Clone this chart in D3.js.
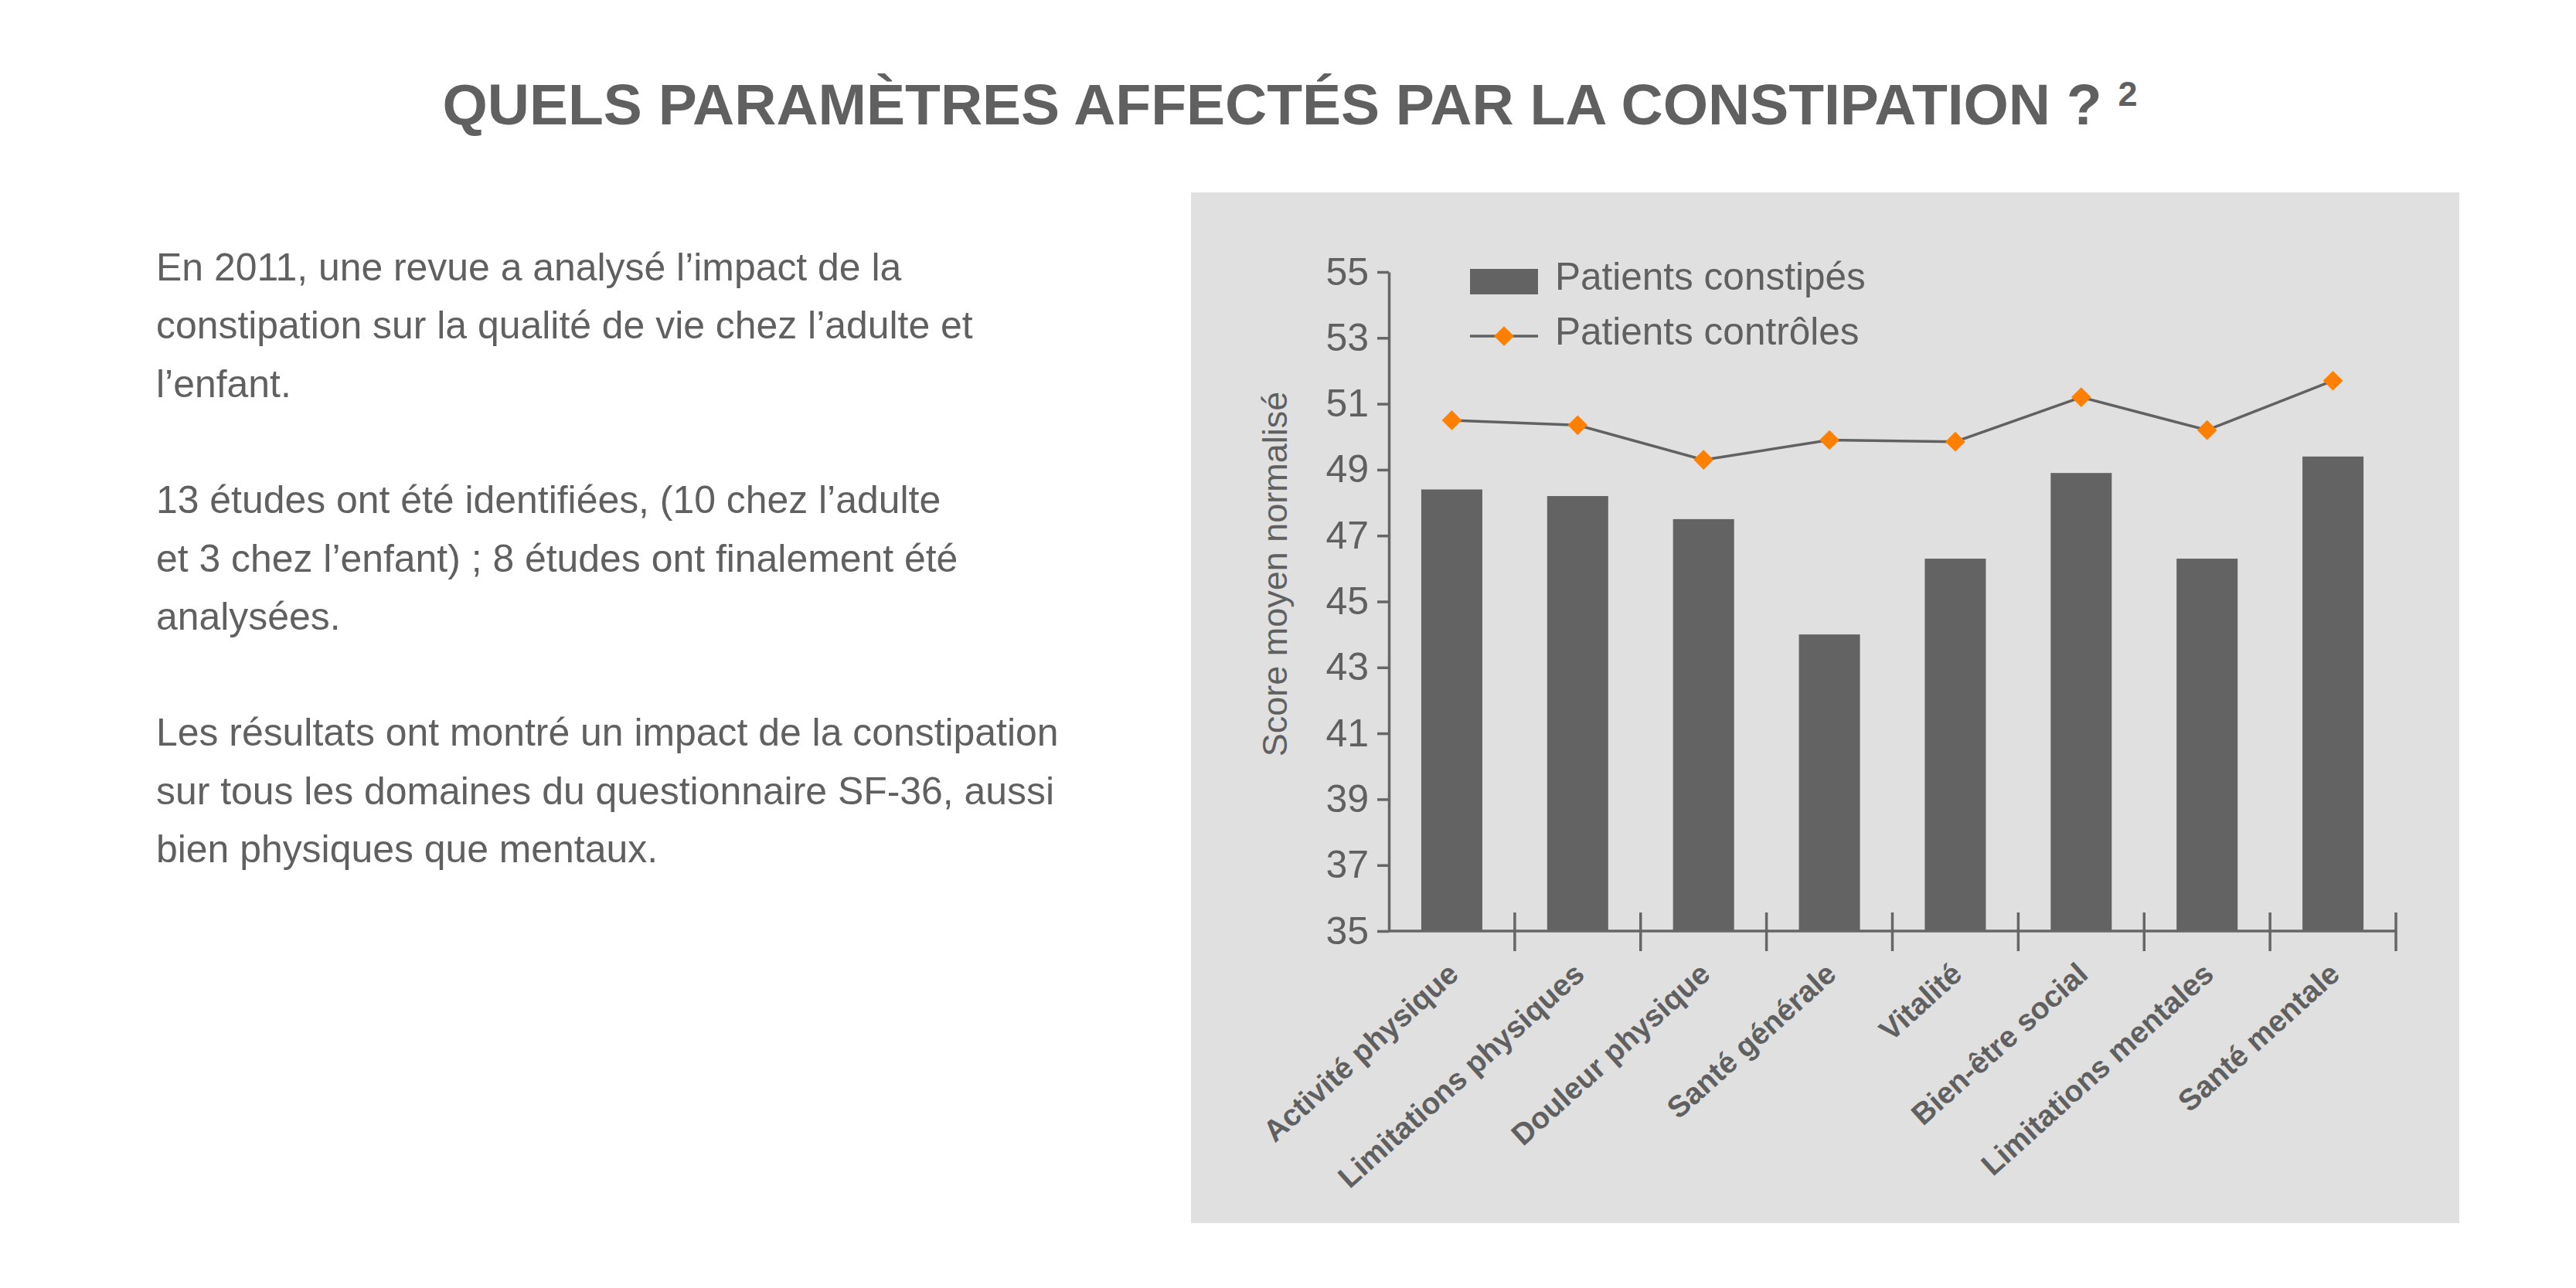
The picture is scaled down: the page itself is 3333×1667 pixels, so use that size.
<!DOCTYPE html>
<html>
<head>
<meta charset="utf-8">
<script src="https://cdn.jsdelivr.net/npm/d3@7"></script>
<style>
  html, body { margin: 0; padding: 0; background: #ffffff; }
  svg { display: block; }
  text { font-family: "Liberation Sans", Arial, Helvetica, sans-serif; }
</style>
</head>
<body>
<svg id="chart" width="3333" height="1667"></svg>
<script>
// ---- Data ----
const categories = [
  "Activité physique", "Limitations physiques", "Douleur physique", "Santé générale",
  "Vitalité", "Bien-être social", "Limitations mentales", "Santé mentale"
];
const constipes = [48.4, 48.2, 47.5, 44.0, 46.3, 48.9, 46.3, 49.4];
const controles = [50.5, 50.35, 49.3, 49.9, 49.85, 51.2, 50.2, 51.7];
const yTicks = [35, 37, 39, 41, 43, 45, 47, 49, 51, 53, 55];
const seriesNames = ["Patients constipés", "Patients contrôles"];
const yTitle = "Score moyen normalisé";
const titleMain = "QUELS PARAMÈTRES AFFECTÉS PAR LA CONSTIPATION ?";
const titleSup = "2";
const bodyLines = [
  "En 2011, une revue a analysé l’impact de la",
  "constipation sur la qualité de vie chez l’adulte et",
  "l’enfant.",
  "",
  "13 études ont été identifiées, (10 chez l’adulte",
  "et 3 chez l’enfant) ; 8 études ont finalement été",
  "analysées.",
  "",
  "Les résultats ont montré un impact de la constipation",
  "sur tous les domaines du questionnaire SF-36, aussi",
  "bien physiques que mentaux."
];

// ---- Styles ----
const textGray = "#606060";
const barColor = "#636363";
const axisColor = "#666666";
const orange = "#ff8000";
const panelColor = "#e0e0e0";

const svg = d3.select("#chart");

// Title
const title = svg.append("text")
  .attr("x", 1669).attr("y", 161)
  .attr("text-anchor", "middle")
  .attr("font-size", 75).attr("font-weight", "bold")
  .attr("fill", textGray);
title.append("tspan").text(titleMain + " ");
title.append("tspan").attr("font-size", 45).attr("dy", -24).text(titleSup);

// Body text
svg.append("g").selectAll("text").data(bodyLines).join("text")
  .attr("x", 202)
  .attr("y", (d, i) => 363 + i * 75.3)
  .attr("font-size", 49.9)
  .attr("fill", textGray)
  .text(d => d);

// Panel
svg.append("rect")
  .attr("x", 1541).attr("y", 249).attr("width", 1641).attr("height", 1334)
  .attr("fill", panelColor);

// Scales
const x = d3.scaleBand().domain(categories).range([1797, 3100]).padding(0);
const y = d3.scaleLinear().domain([35, 55]).range([1205, 352]);
const barW = x.bandwidth() * 0.485;
const cx = c => x(c) + x.bandwidth() / 2;

// Bars
svg.append("g").selectAll("rect").data(categories).join("rect")
  .attr("x", (c) => cx(c) - barW / 2)
  .attr("y", (c, i) => y(constipes[i]))
  .attr("width", barW)
  .attr("height", (c, i) => y(35) - y(constipes[i]))
  .attr("fill", barColor);

// Y axis
const yAxis = svg.append("g")
  .attr("transform", `translate(${x.range()[0]},0)`)
  .call(d3.axisLeft(y).tickValues(yTicks).tickSize(15).tickSizeOuter(0).tickPadding(11));
yAxis.select(".domain").attr("stroke", axisColor).attr("stroke-width", 3.5);
yAxis.selectAll(".tick line").attr("stroke", axisColor).attr("stroke-width", 3.5);
yAxis.selectAll(".tick text")
  .attr("font-size", 50).attr("fill", textGray)
  .attr("font-family", "\"Liberation Sans\", Arial, sans-serif");

// X axis line
svg.append("line")
  .attr("x1", x.range()[0]).attr("x2", x.range()[1])
  .attr("y1", y(35)).attr("y2", y(35))
  .attr("stroke", axisColor).attr("stroke-width", 3.5);

// X axis boundary ticks (crossing the axis)
svg.append("g").selectAll("line").data(categories).join("line")
  .attr("x1", c => x(c) + x.bandwidth()).attr("x2", c => x(c) + x.bandwidth())
  .attr("y1", y(35) - 24).attr("y2", y(35) + 26)
  .attr("stroke", axisColor).attr("stroke-width", 3.5);

// X labels
svg.append("g").selectAll("text").data(categories).join("text")
  .attr("transform", c => `translate(${cx(c) + 11},${y(35) + 59}) rotate(-42)`)
  .attr("text-anchor", "end")
  .attr("font-size", 39).attr("font-weight", "bold")
  .attr("fill", textGray)
  .text(c => c);

// Y axis title
svg.append("text")
  .attr("transform", `translate(1665,743) rotate(-90)`)
  .attr("text-anchor", "middle")
  .attr("font-size", 45)
  .attr("fill", textGray)
  .text(yTitle);

// Control line
const line = d3.line().x(d => cx(d.c)).y(d => y(d.v));
const ctrlData = categories.map((c, i) => ({ c, v: controles[i] }));
svg.append("path")
  .datum(ctrlData)
  .attr("d", line)
  .attr("fill", "none")
  .attr("stroke", "#616161")
  .attr("stroke-width", 3.5);

const diamond = d3.symbol().type(d3.symbolSquare).size(330);
svg.append("g").selectAll("path").data(ctrlData).join("path")
  .attr("d", diamond)
  .attr("transform", d => `translate(${cx(d.c)},${y(d.v)}) rotate(45)`)
  .attr("fill", orange);

// Legend
const lg = svg.append("g");
lg.append("rect")
  .attr("x", 1902).attr("y", 348).attr("width", 88).attr("height", 33)
  .attr("fill", barColor);
lg.append("text")
  .attr("x", 2012).attr("y", 375)
  .attr("font-size", 49.5).attr("fill", textGray)
  .text(seriesNames[0]);
lg.append("line")
  .attr("x1", 1902).attr("x2", 1990).attr("y1", 435).attr("y2", 435)
  .attr("stroke", "#616161").attr("stroke-width", 3.5);
lg.append("path")
  .attr("d", diamond)
  .attr("transform", "translate(1946,435) rotate(45)")
  .attr("fill", orange);
lg.append("text")
  .attr("x", 2012).attr("y", 446)
  .attr("font-size", 49.5).attr("fill", textGray)
  .text(seriesNames[1]);
</script>
</body>
</html>
